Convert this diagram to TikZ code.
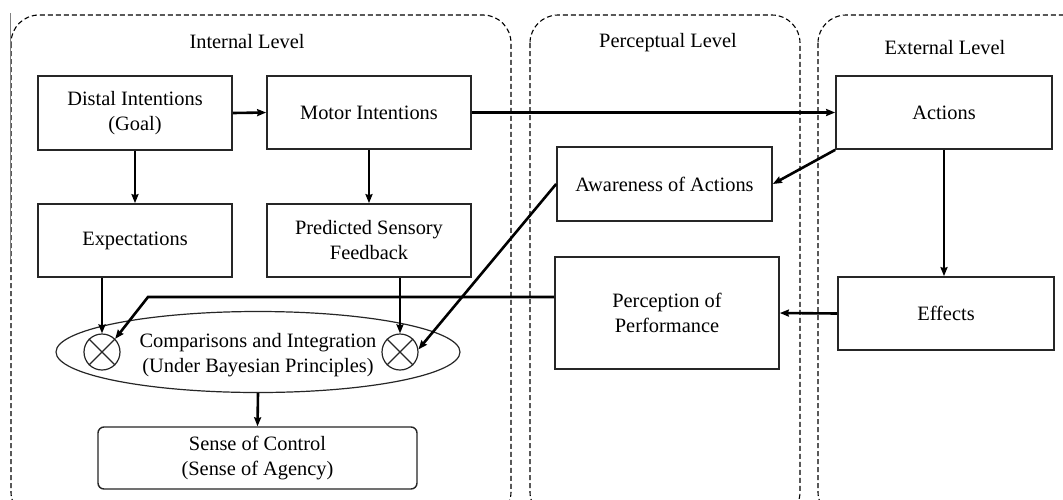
\documentclass[tikz,border=0pt]{standalone}
\usepackage{fontspec}
\setmainfont{Liberation Serif}
\usetikzlibrary{shapes.geometric,arrows.meta}
\begin{document}
\begin{tikzpicture}[x=1pt,y=-1pt,
  every node/.style={font=\fontsize{20.4}{25}\selectfont, align=center, inner sep=0pt},
  panel/.style={draw=black, line width=1.1pt, dash pattern=on 5pt off 3pt, rounded corners=28pt},
  box/.style={draw=black!85, line width=1.7pt, minimum width=#1},
  arr/.style={line width=2.6pt, -{Stealth[length=9pt,width=7pt,inset=1pt]}},
  xcirc/.style={draw=black!85, line width=1.2pt, circle, minimum size=36pt}
]
\useasboundingbox (0,0) rectangle (1063,499);
\clip (0,0) rectangle (1063,499);
\fill[white] (0,0) rectangle (1063,499);

% panels
\draw[panel] (11,15) rectangle (511,520);
\draw[panel] (530,15) rectangle (800,520);
\draw[panel] (818,15) rectangle (1100,520);
\draw[black!50, line width=0.8pt] (10,13) -- (10,260);

% titles
\node (tint) at (247,42) {Internal Level};
\node (tper) at (668,43) {Perceptual Level};
\node (text) at (945,48) {External Level};

% boxes
\node[box=194pt, minimum height=74pt] (distal) at (135,113) {Distal Intentions\\(Goal)};
\node[box=204pt, minimum height=73pt] (motor) at (369,112.5) {Motor Intentions};
\node[box=194pt, minimum height=73pt] (expect) at (135,240.5) {Expectations};
\node[box=204pt, minimum height=73pt] (pred) at (369,240.5) {Predicted Sensory\\Feedback};
\node[box=216pt, minimum height=73pt] (actions) at (944,112.5) {Actions};
\node[box=215pt, minimum height=74pt] (aware) at (664.5,184) {Awareness of Actions};
\node[box=224pt, minimum height=112pt] (perc) at (667,313) {Perception of\\Performance};
\node[box=216pt, minimum height=73pt] (effects) at (946,313.5) {Effects};

% ellipse and comparators
\node[draw=black!85, line width=1.2pt, ellipse, minimum width=404pt, minimum height=81pt] (integ) at (258,352) {};
\node (itext) at (258,355) {Comparisons and Integration\\(Under Bayesian Principles)};
\node[xcirc] (lc) at (102,352) {};
\node[xcirc] (rc) at (400,352) {};
\draw[black!85, line width=1.2pt] (lc.45) -- (lc.225) (lc.135) -- (lc.315);
\draw[black!85, line width=1.2pt] (rc.45) -- (rc.225) (rc.135) -- (rc.315);

\node[draw=black!85, line width=1.4pt, rounded corners=6pt, minimum width=319pt, minimum height=62pt] (soc) at (257.5,458) {Sense of Control\\(Sense of Agency)};

% connectors
\draw[arr] (distal.east) -- (motor.west);
\draw[arr] (motor.east) -- (actions.west);
\draw[arr] (distal.south) -- (expect.north);
\draw[arr] (motor.south) -- (pred.north);
\draw[arr] (lc.north |- expect.south) -- (lc.north);
\draw[arr] (rc.north |- pred.south) -- (rc.north);
\coordinate (pbend) at (148,297);
\draw[arr] (perc.west |- pbend) -- (pbend) -- (lc.45);
\draw[arr] (aware.west) -- (rc.8);
\draw[arr] (actions.south west) -- (aware.east);
\draw[arr] (actions.south) -- (actions.south |- effects.north);
\draw[arr] (effects.west) -- (perc.east);
\draw[arr] (integ.south) -- (soc.north);
\end{tikzpicture}
\end{document}
